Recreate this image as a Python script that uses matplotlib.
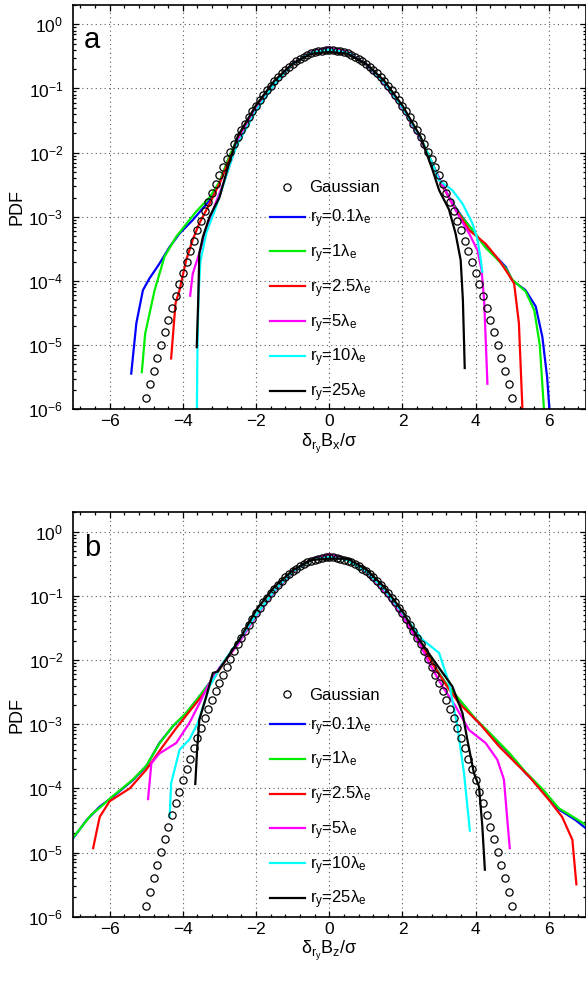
import matplotlib
matplotlib.use("Agg")
import matplotlib.pyplot as plt
from matplotlib.ticker import MultipleLocator, LogLocator, NullFormatter, FixedLocator

plt.rcParams['font.family'] = ['Liberation Sans', 'DejaVu Sans']
plt.rcParams['mathtext.fontset'] = 'custom'
plt.rcParams['mathtext.rm'] = 'Liberation Sans'
plt.rcParams['mathtext.it'] = 'Liberation Sans'
plt.rcParams['mathtext.bf'] = 'Liberation Sans:bold'
plt.rcParams['mathtext.sf'] = 'Liberation Sans'

# ---------------- data ----------------
gauss_x = [-5.0, -4.9, -4.8, -4.7, -4.6, -4.5, -4.4, -4.3, -4.2, -4.1,
           -4.0, -3.9, -3.8, -3.7, -3.6, -3.5, -3.4, -3.3, -3.2, -3.1,
           -3.0, -2.9, -2.8, -2.7, -2.6, -2.5, -2.4, -2.3, -2.2, -2.1,
           -2.0, -1.9, -1.8, -1.7, -1.6, -1.5, -1.4, -1.3, -1.2, -1.1,
           -1.0, -0.9, -0.8, -0.7, -0.6, -0.5, -0.4, -0.3, -0.2, -0.1,
           0.0, 0.1, 0.2, 0.3, 0.4, 0.5, 0.6, 0.7, 0.8, 0.9,
           1.0, 1.1, 1.2, 1.3, 1.4, 1.5, 1.6, 1.7, 1.8, 1.9,
           2.0, 2.1, 2.2, 2.3, 2.4, 2.5, 2.6, 2.7, 2.8, 2.9,
           3.0, 3.1, 3.2, 3.3, 3.4, 3.5, 3.6, 3.7, 3.8, 3.9,
           4.0, 4.1, 4.2, 4.3, 4.4, 4.5, 4.6, 4.7, 4.8, 4.9, 5.0]
gauss_pdf = [1.49e-6, 2.44e-6, 3.96e-6, 6.37e-6, 1.01e-5, 1.60e-5, 2.49e-5, 3.85e-5, 5.89e-5, 8.93e-5,
             1.34e-4, 1.99e-4, 2.92e-4, 4.25e-4, 6.12e-4, 8.73e-4, 1.23e-3, 1.72e-3, 2.38e-3, 3.27e-3,
             4.43e-3, 5.95e-3, 7.92e-3, 1.04e-2, 1.36e-2, 1.75e-2, 2.24e-2, 2.83e-2, 3.55e-2, 4.40e-2,
             5.40e-2, 6.56e-2, 7.90e-2, 9.41e-2, 0.1109, 0.1295, 0.1497, 0.1714, 0.1942, 0.2179,
             0.2420, 0.2661, 0.2897, 0.3123, 0.3332, 0.3521, 0.3683, 0.3814, 0.3910, 0.3970,
             0.3989, 0.3970, 0.3910, 0.3814, 0.3683, 0.3521, 0.3332, 0.3123, 0.2897, 0.2661,
             0.2420, 0.2179, 0.1942, 0.1714, 0.1497, 0.1295, 0.1109, 9.41e-2, 7.90e-2, 6.56e-2,
             5.40e-2, 4.40e-2, 3.55e-2, 2.83e-2, 2.24e-2, 1.75e-2, 1.36e-2, 1.04e-2, 7.92e-3, 5.95e-3,
             4.43e-3, 3.27e-3, 2.38e-3, 1.72e-3, 1.23e-3, 8.73e-4, 6.12e-4, 4.25e-4, 2.92e-4, 1.99e-4,
             1.34e-4, 8.93e-5, 5.89e-5, 3.85e-5, 2.49e-5, 1.60e-5, 1.01e-5, 6.37e-6, 3.96e-6, 2.44e-6, 1.49e-6]

labels = [r'$\mathregular{r_y}$=0.1$\mathregular{\lambda_e}$',
          r'$\mathregular{r_y}$=1$\mathregular{\lambda_e}$',
          r'$\mathregular{r_y}$=2.5$\mathregular{\lambda_e}$',
          r'$\mathregular{r_y}$=5$\mathregular{\lambda_e}$',
          r'$\mathregular{r_y}$=10$\mathregular{\lambda_e}$',
          r'$\mathregular{r_y}$=25$\mathregular{\lambda_e}$']
colors = ['#0000ff', '#00ee00', '#ff0000', '#ff00ff', '#00ffff', '#000000']

# ---- panel a: delta B_x ----
blue_a_x = [-5.41, -5.27, -5.09, -4.91, -4.64, -4.36, -4.09, -3.73, -3.27, -3.0, -2.73, -2.5, -2.0, -1.5, -1.0, -0.5, 0.0,
            0.5, 1.0, 1.5, 2.0, 2.5, 2.8, 3.0, 3.3, 3.6, 3.91, 4.27, 4.55, 4.82, 5.0, 5.36, 5.64, 5.82, 5.95, 6.02]
blue_a_y = [3.6e-6, 2.2e-5, 7.2e-5, 1.1e-4, 1.86e-4, 3.4e-4, 5.5e-4, 8.9e-4, 1.8e-3, 3.3e-3, 8.7e-3, 0.0166, 0.050, 0.120, 0.234, 0.363, 0.417,
            0.363, 0.234, 0.120, 0.050, 0.0166, 7.1e-3, 4.0e-3, 1.9e-3, 1.05e-3, 6.2e-4, 3.4e-4, 2.4e-4, 1.66e-4, 1.02e-4, 7.2e-5, 4.0e-5, 1.35e-5, 3.2e-6, 8.9e-7]
green_a_x = [-5.12, -5.03, -4.77, -4.5, -4.18, -3.64, -3.27, -3.0, -2.73, -2.5, -2.0, -1.5, -1.0, -0.5, 0.0,
             0.5, 1.0, 1.5, 2.0, 2.5, 2.8, 3.0, 3.3, 3.6, 3.91, 4.27, 4.55, 4.82, 5.0, 5.36, 5.6, 5.75, 5.87]
green_a_y = [3.8e-6, 1.5e-5, 7.2e-5, 2.4e-4, 4.9e-4, 1.2e-3, 2.0e-3, 3.5e-3, 8.7e-3, 0.017, 0.050, 0.120, 0.234, 0.363, 0.417,
             0.363, 0.234, 0.123, 0.051, 0.017, 7.1e-3, 3.9e-3, 1.86e-3, 1.02e-3, 6.3e-4, 3.3e-4, 2.3e-4, 1.58e-4, 1.05e-4, 6.9e-5, 3.5e-5, 1.0e-5, 8.9e-7]
red_a_x = [-4.32, -4.2, -4.09, -3.91, -3.73, -3.55, -3.27, -3.0, -2.73, -2.5, -2.0, -1.5, -1.0, -0.5, 0.0,
           0.5, 1.0, 1.5, 2.0, 2.5, 2.8, 3.0, 3.36, 3.82, 4.27, 4.64, 4.91, 5.05, 5.18, 5.28]
red_a_y = [6.2e-6, 4.5e-5, 7.2e-5, 2.1e-4, 4.4e-4, 7.9e-4, 1.6e-3, 3.3e-3, 7.8e-3, 0.0158, 0.048, 0.117, 0.234, 0.372, 0.427,
           0.372, 0.234, 0.117, 0.049, 0.0162, 6.8e-3, 3.8e-3, 1.6e-3, 6.2e-4, 3.8e-4, 2.1e-4, 1.23e-4, 9.1e-5, 2.2e-5, 8.9e-7]
magenta_a_x = [-3.80, -3.73, -3.55, -3.36, -3.14, -2.86, -2.5, -2.0, -1.5, -1.0, -0.5, 0.0,
               0.5, 1.0, 1.5, 2.0, 2.5, 2.82, 3.27, 3.55, 3.82, 4.05, 4.16, 4.23, 4.27, 4.32]
magenta_a_y = [5.9e-5, 1.3e-4, 2.7e-4, 6.2e-4, 1.45e-3, 3.7e-3, 0.0151, 0.047, 0.117, 0.240, 0.372, 0.437,
               0.372, 0.240, 0.117, 0.048, 0.0158, 6.3e-3, 2.0e-3, 1.0e-3, 5.5e-4, 3.0e-4, 1.48e-4, 5.0e-5, 1.35e-5, 2.5e-6]
cyan_a_x = [-3.62, -3.60, -3.57, -3.52, -3.36, -3.14, -2.91, -2.64, -2.5, -2.0, -1.5, -1.0, -0.5, 0.0,
            0.5, 1.0, 1.5, 2.0, 2.5, 2.8, 3.0, 3.36, 3.64, 3.91, 4.05, 4.14, 4.18]
cyan_a_y = [6.3e-7, 1.0e-5, 6.3e-5, 2.0e-4, 5.6e-4, 1.2e-3, 2.95e-3, 8.7e-3, 0.0138, 0.045, 0.117, 0.240, 0.363, 0.407,
            0.363, 0.240, 0.123, 0.050, 0.0166, 7.1e-3, 3.7e-3, 2.6e-3, 1.6e-3, 7.9e-4, 4.4e-4, 2.1e-4, 1.4e-4]
black_a_x = [-3.62, -3.58, -3.55, -3.45, -3.27, -3.0, -2.73, -2.5, -2.0, -1.5, -1.0, -0.5, 0.0,
             0.5, 1.0, 1.5, 2.0, 2.5, 2.82, 3.0, 3.27, 3.45, 3.59, 3.65, 3.70]
black_a_y = [9.3e-6, 5.0e-5, 2.7e-4, 4.9e-4, 1.0e-3, 2.0e-3, 7.1e-3, 0.018, 0.055, 0.132, 0.245, 0.347, 0.372,
             0.347, 0.245, 0.132, 0.054, 0.0174, 5.4e-3, 2.6e-3, 1.3e-3, 5.5e-4, 2.1e-4, 5.0e-5, 4.4e-6]

# ---- panel b: delta B_z ----
blue_b_x = [-7.0, -6.63, -6.27, -5.91, -5.36, -5.0, -4.64, -4.27, -3.91, -3.55, -3.27, -2.9, -2.5, -2.0, -1.5, -1.0, -0.5, 0.0,
            0.5, 1.0, 1.5, 2.0, 2.5, 2.9, 3.2, 3.55, 4.0, 4.36, 4.91, 5.36, 5.82, 6.27, 6.73, 7.0]
blue_b_y = [1.66e-5, 3.2e-5, 5.2e-5, 7.4e-5, 1.35e-4, 2.2e-4, 5.1e-4, 9.3e-4, 1.48e-3, 2.7e-3, 4.4e-3, 8.9e-3, 0.019, 0.050, 0.117, 0.229, 0.363, 0.427,
            0.363, 0.229, 0.117, 0.049, 0.0178, 7.6e-3, 4.2e-3, 2.4e-3, 1.17e-3, 7.4e-4, 3.5e-4, 1.74e-4, 9.5e-5, 4.7e-5, 3.2e-5, 2.4e-5]
green_b_x = [-7.0, -6.7, -6.5, -6.27, -5.91, -5.36, -5.0, -4.64, -4.27, -3.91, -3.55, -3.27, -2.9, -2.5, -2.0, -1.5, -1.0, -0.5, 0.0,
             0.5, 1.0, 1.5, 2.0, 2.5, 2.9, 3.2, 3.55, 4.0, 4.36, 4.91, 5.36, 5.82, 6.27, 6.73, 7.0]
green_b_y = [1.7e-5, 2.8e-5, 3.9e-5, 5.0e-5, 7.6e-5, 1.38e-4, 2.25e-4, 5.0e-4, 9.4e-4, 1.5e-3, 2.7e-3, 4.4e-3, 8.9e-3, 0.019, 0.050, 0.117, 0.229, 0.363, 0.427,
             0.363, 0.229, 0.117, 0.049, 0.0178, 7.6e-3, 4.2e-3, 2.45e-3, 1.2e-3, 7.5e-4, 3.6e-4, 1.8e-4, 9.8e-5, 4.9e-5, 3.4e-5, 2.7e-5]
red_b_x = [-6.45, -6.33, -6.27, -6.0, -5.45, -5.0, -4.55, -4.18, -3.82, -3.45, -3.2, -2.9, -2.5, -2.0, -1.5, -1.0, -0.5, 0.0,
           0.5, 1.0, 1.5, 2.0, 2.5, 2.9, 3.2, 3.55, 4.09, 4.64, 5.0, 5.45, 6.0, 6.36, 6.64, 6.75]
red_b_y = [1.17e-5, 2.5e-5, 3.6e-5, 6.3e-5, 1.0e-4, 1.95e-4, 4.5e-4, 8.7e-4, 1.58e-3, 2.9e-3, 4.7e-3, 8.7e-3, 0.018, 0.049, 0.117, 0.234, 0.372, 0.437,
           0.372, 0.234, 0.117, 0.049, 0.0174, 7.4e-3, 4.0e-3, 2.1e-3, 1.05e-3, 4.5e-4, 2.8e-4, 1.55e-4, 6.6e-5, 3.6e-5, 1.58e-5, 3.2e-6]
magenta_b_x = [-4.95, -4.86, -4.64, -4.18, -3.82, -3.55, -3.32, -3.0, -2.5, -2.0, -1.5, -1.0, -0.5, 0.0,
               0.5, 1.0, 1.5, 2.0, 2.5, 2.73, 3.09, 3.45, 3.82, 4.27, 4.59, 4.77, 4.93]
magenta_b_y = [6.8e-5, 2.45e-4, 3.5e-4, 5.1e-4, 1.05e-3, 2.1e-3, 3.9e-3, 7.6e-3, 0.0174, 0.048, 0.117, 0.234, 0.372, 0.447,
               0.372, 0.234, 0.117, 0.048, 0.0166, 8.9e-3, 3.9e-3, 1.9e-3, 8.1e-4, 5.1e-4, 2.8e-4, 1.38e-4, 1.17e-5]
cyan_b_x = [-4.36, -4.32, -4.09, -3.82, -3.59, -3.27, -2.91, -2.5, -2.0, -1.5, -1.0, -0.5, 0.0,
            0.5, 1.0, 1.5, 2.0, 2.54, 3.0, 3.27, 3.50, 3.68, 3.84]
cyan_b_y = [3.6e-5, 1.2e-4, 4.0e-4, 5.8e-4, 1.05e-3, 3.9e-3, 8.9e-3, 0.019, 0.050, 0.120, 0.240, 0.363, 0.407,
            0.363, 0.240, 0.126, 0.054, 0.021, 0.0129, 4.4e-3, 9.3e-4, 1.74e-4, 2.2e-5]
black_b_x = [-3.66, -3.61, -3.55, -3.36, -3.18, -3.05, -2.82, -2.45, -2.0, -1.5, -1.0, -0.5, 0.0,
             0.5, 1.0, 1.5, 2.0, 2.45, 2.91, 3.36, 3.64, 3.77, 3.95, 4.09, 4.18, 4.25]
black_b_y = [1.17e-4, 4.0e-4, 1.17e-3, 2.7e-3, 6.3e-3, 6.6e-3, 0.0102, 0.021, 0.060, 0.138, 0.251, 0.363, 0.380,
             0.380, 0.263, 0.138, 0.0575, 0.021, 8.9e-3, 3.9e-3, 1.48e-3, 5.8e-4, 1.74e-4, 1.07e-4, 2.6e-5, 5.4e-6]

panel_a = [(blue_a_x, blue_a_y), (green_a_x, green_a_y), (red_a_x, red_a_y),
           (magenta_a_x, magenta_a_y), (cyan_a_x, cyan_a_y), (black_a_x, black_a_y)]
panel_b = [(blue_b_x, blue_b_y), (green_b_x, green_b_y), (red_b_x, red_b_y),
           (magenta_b_x, magenta_b_y), (cyan_b_x, cyan_b_y), (black_b_x, black_b_y)]

xticks = [-6, -4, -2, 0, 2, 4, 6]
yticks = [1e-6, 1e-5, 1e-4, 1e-3, 1e-2, 1e-1, 1e0]

# ---------------- figure ----------------
fig = plt.figure(figsize=(5.86, 9.86), dpi=100)
ax_a = fig.add_axes([0.1246, 0.5849, 0.8746, 0.4100])
ax_b = fig.add_axes([0.1246, 0.0703, 0.8746, 0.4100])


def draw(ax, curves, letter, xlab):
    h_g, = ax.plot(gauss_x, gauss_pdf, 'o', mfc='none', mec='k', ms=5.2, mew=0.9,
                   label='Gaussian', zorder=3)
    handles = [h_g]
    for (cx, cy), col, lab in zip(curves, colors, labels):
        h, = ax.plot(cx, cy, '-', color=col, lw=1.6, label=lab, zorder=2)
        handles.append(h)
    ax.set_yscale('log')
    ax.set_xlim(-7, 7)
    ax.set_ylim(1e-6, 2)
    ax.set_xticks(xticks)
    ax.xaxis.set_minor_locator(MultipleLocator(0.4))
    ax.yaxis.set_major_locator(FixedLocator(yticks))
    minor = [m * 10.0 ** e for e in range(-6, 1) for m in range(2, 10)]
    ax.yaxis.set_minor_locator(FixedLocator([v for v in minor if v <= 2]))
    ax.yaxis.set_minor_formatter(NullFormatter())
    ax.grid(True, which='major', linestyle=(0, (1, 3)), color='0.35', lw=0.8)
    ax.tick_params(which='both', direction='in', top=True, right=True, labelsize=12.5, width=0.9)
    ax.tick_params(which='major', length=4)
    ax.tick_params(which='minor', length=2.3)
    ax.tick_params(axis='y', which='major', pad=7)
    for s in ax.spines.values():
        s.set_linewidth(1.2)
    ax.set_ylabel('PDF', fontsize=13, labelpad=2)
    ax.set_xlabel(xlab, fontsize=13, labelpad=2)
    ax.text(0.021, 0.893, letter, transform=ax.transAxes, fontsize=21)
    ax.legend(handles=handles, loc='upper left', bbox_to_anchor=(0.385, 0.566),
              frameon=False, fontsize=12, handlelength=2.05, handletextpad=0.3,
              labelspacing=0.73, borderpad=0, borderaxespad=0, numpoints=1)


draw(ax_a, panel_a, 'a', r'$\mathregular{\delta_{r_y}B_x/\sigma}$')
draw(ax_b, panel_b, 'b', r'$\mathregular{\delta_{r_y}B_z/\sigma}$')

fig.savefig('out.png', dpi=100)
